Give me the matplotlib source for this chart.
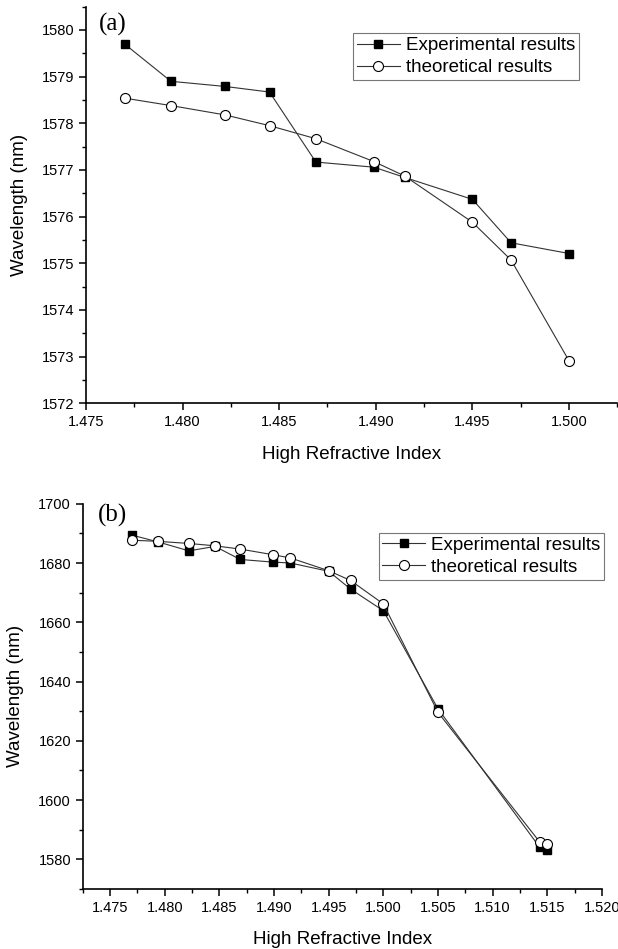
import matplotlib
matplotlib.use("Agg")
import matplotlib.pyplot as plt
from matplotlib.ticker import MultipleLocator, FormatStrFormatter

plt.rcParams["font.family"] = ["Liberation Sans", "DejaVu Sans"]

# panel (a)
n_a = [1.477, 1.4794, 1.4822, 1.4845, 1.4869, 1.4899, 1.4915, 1.495, 1.497, 1.500]
exp_a = [1579.70, 1578.90, 1578.79, 1578.67, 1577.17, 1577.06, 1576.84, 1576.37, 1575.44, 1575.21]
theo_a = [1578.54, 1578.38, 1578.18, 1577.95, 1577.67, 1577.18, 1576.87, 1575.88, 1575.07, 1572.91]

# panel (b)
n_b = [1.477, 1.4794, 1.4822, 1.4846, 1.4869, 1.4899, 1.4915, 1.495, 1.497, 1.500,
       1.505, 1.5143, 1.515]
exp_b = [1689.4, 1687.1, 1684.1, 1685.6, 1681.2, 1680.3, 1680.0, 1677.2, 1671.2,
         1663.9, 1630.8, 1584.1, 1583.3]
theo_b = [1687.7, 1687.3, 1686.6, 1685.8, 1684.7, 1682.8, 1681.7, 1677.4, 1674.1,
          1666.2, 1629.6, 1585.9, 1585.3]

fig = plt.figure(figsize=(6.18, 9.49), dpi=100)
ax1 = fig.add_axes([0.139, 0.575, 0.860, 0.418])
ax2 = fig.add_axes([0.134, 0.0632, 0.840, 0.406])


def style(ax, n, e, t, tag, tag_pos, xlim, ylim, ymaj, leg_anchor):
    ax.plot(n, e, color="#333333", lw=0.8, marker="s", ms=5.8,
            mfc="black", mec="black", label="Experimental results")
    ax.plot(n, t, color="#333333", lw=0.8, marker="o", ms=7.2,
            mfc="white", mec="black", mew=0.8, label="theoretical results")
    ax.set_xlim(*xlim)
    ax.set_ylim(*ylim)
    ax.spines["top"].set_visible(False)
    ax.spines["right"].set_visible(False)
    for s in ("left", "bottom"):
        ax.spines[s].set_linewidth(1.2)
    ax.xaxis.set_major_locator(MultipleLocator(0.005))
    ax.xaxis.set_minor_locator(MultipleLocator(0.0025))
    ax.yaxis.set_major_locator(MultipleLocator(ymaj))
    ax.yaxis.set_minor_locator(MultipleLocator(ymaj / 2))
    ax.xaxis.set_major_formatter(FormatStrFormatter("%.3f"))
    ax.yaxis.set_major_formatter(FormatStrFormatter("%d"))
    ax.tick_params(which="major", direction="out", length=5, width=1.1,
                   labelsize=10.5, colors="black")
    ax.tick_params(which="minor", direction="out", length=3, width=1.0)
    ax.set_xlabel("High Refractive Index", fontsize=13.5, labelpad=12)
    ax.set_ylabel("Wavelength (nm)", fontsize=13.5, labelpad=10)
    ax.text(tag_pos[0], tag_pos[1], tag, transform=ax.transAxes, va="top",
            ha="left", fontsize=18, family="Liberation Serif")
    leg = ax.legend(loc="upper right", bbox_to_anchor=leg_anchor, fontsize=13.5,
                    frameon=True, fancybox=False, edgecolor="#555555",
                    handlelength=2.3, handletextpad=0.3, borderpad=0.2,
                    labelspacing=0.28, borderaxespad=0)
    leg.get_frame().set_linewidth(0.8)


style(ax1, n_a, exp_a, theo_a, "(a)", (0.024, 0.985),
      (1.475, 1.5025), (1572, 1580.5), 1, (0.927, 0.933))
style(ax2, n_b, exp_b, theo_b, "(b)", (0.029, 1.0),
      (1.4725, 1.520), (1570, 1700), 20, (1.004, 0.925))

fig.savefig("out.png", dpi=100)
